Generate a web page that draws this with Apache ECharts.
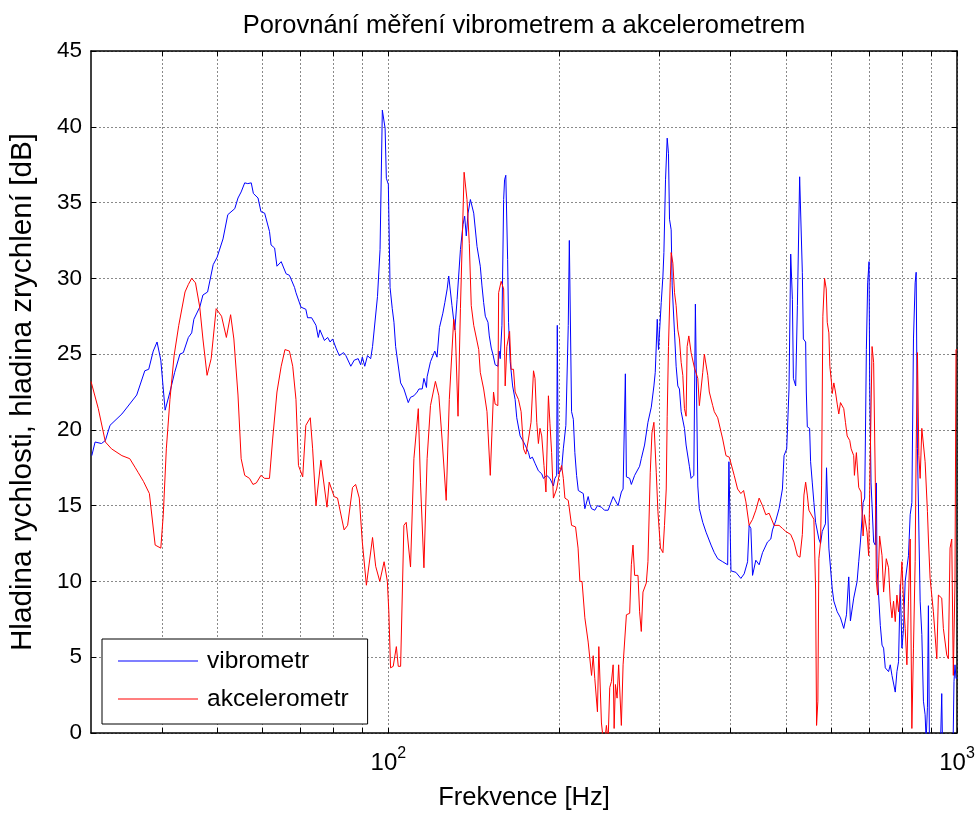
<!DOCTYPE html>
<html>
<head>
<meta charset="utf-8">
<title>Porovnání měření vibrometrem a akcelerometrem</title>
<script src="https://cdn.jsdelivr.net/npm/echarts@6/dist/echarts.min.js"></script>
<style>
  html, body { margin: 0; padding: 0; background: #fff; }
  #chart { width: 978px; height: 816px; }
</style>
</head>
<body>
<div id="chart"></div>
<script>
// Vibrometer spectrum: frequency [Hz] and level [dB]
const vibroFreq = [
  30.1, 30.5, 31.3, 31.8, 32.4, 34.0, 36.1, 37.3, 37.9, 38.6, 39.2, 39.8, 40.5, 41.3, 42.1, 43.0, 43.6, 44.5, 45.1, 45.5,
  46.6, 47.2, 48.1, 49.2, 50.0, 51.2, 52.2, 53.7, 54.4, 55.1, 55.9, 56.6, 57.4, 57.9, 59.0, 59.7, 60.6, 61.8, 62.2, 63.1,
  63.7, 64.8, 66.1, 67.0, 68.4, 68.8, 70.2, 71.6, 72.1, 73.3, 74.6, 75.3, 75.8, 77.2, 78.2, 79.0, 79.8, 80.9, 82.0, 83.4,
  84.2, 85.9, 87.1, 88.5, 89.4, 90.0, 90.9, 91.9, 93.1, 93.8, 95.7, 96.7, 97.6, 98.7, 99.2, 100.0, 100.7, 101.6, 102.3, 103.0,
  105.1, 106.5, 108.4, 109.4, 110.9, 112.4, 113.2, 114.7, 115.5, 116.7, 117.0, 118.6, 120.7, 121.8, 123.0, 124.7, 125.7, 126.9, 127.7, 128.6,
  129.4, 130.9, 132.1, 133.9, 135.3, 136.2, 137.1, 138.1, 139.4, 140.3, 141.3, 143.2, 145.1, 146.1, 147.1, 148.1, 149.7, 150.5, 151.7, 152.7,
  154.1, 155.8, 156.6, 157.3, 158.4, 159.5, 160.1, 160.9, 162.1, 162.7, 163.8, 165.4, 167.1, 168.2, 169.4, 170.5, 172.9, 174.0, 176.4, 177.5,
  179.2, 181.1, 183.6, 186.1, 187.4, 189.9, 192.4, 195.1, 196.3, 197.7, 198.2, 199.0, 201.7, 203.1, 205.2, 207.2, 208.1, 210.0, 211.5, 212.8,
  214.3, 215.8, 220.2, 221.6, 223.1, 224.6, 226.1, 227.7, 230.7, 233.2, 237.0, 239.9, 243.5, 248.5, 253.5, 256.9, 258.7, 261.1, 262.2, 265.7,
  267.5, 271.1, 276.6, 278.5, 282.2, 286.1, 290.0, 293.1, 294.7, 297.1, 298.6, 301.9, 304.0, 305.2, 307.2, 309.3, 310.9, 312.2, 314.3, 315.6,
  318.6, 320.7, 322.9, 325.0, 327.3, 331.7, 333.9, 338.4, 340.7, 344.5, 346.7, 350.1, 352.3, 357.2, 362.0, 369.4, 374.3, 379.5, 387.2, 395.1,
  397.1, 400.4, 408.5, 416.8, 422.4, 428.3, 431.0, 434.0, 437.0, 442.8, 448.8, 455.0, 464.2, 470.5, 473.7, 480.0, 486.5, 493.2, 496.4, 501.8,
  506.5, 510.0, 513.5, 515.6, 520.4, 524.0, 528.8, 534.6, 536.8, 541.8, 543.3, 545.5, 550.6, 552.8, 556.6, 560.2, 564.1, 571.6, 575.5, 579.5,
  587.0, 589.6, 595.2, 603.4, 607.3, 615.7, 623.9, 632.2, 639.2, 645.1, 649.5, 658.2, 667.3, 671.7, 676.3, 683.7, 688.1, 690.0, 692.8, 696.5,
  700.4, 702.2, 706.1, 713.5, 718.4, 721.4, 723.4, 728.0, 733.1, 738.2, 742.9, 748.0, 758.0, 763.2, 768.5, 778.8, 784.1, 789.2, 794.7, 800.1,
  805.3, 810.8, 821.6, 827.3, 833.0, 838.4, 844.1, 847.6, 852.0, 861.4, 867.3, 872.9, 878.9, 882.5, 887.2, 890.7, 894.3, 896.8, 915.1, 933.7,
  940.1, 943.9, 964.3, 984.0, 987.9, 991.9, 996.0, 1000
];
const vibroLevel = [
  18.3, 19.2, 19.1, 19.3, 20.3, 21.05, 22.3, 23.9, 24.0, 25.2, 25.8, 24.6, 21.3, 22.5, 23.8, 25.0, 25.1, 26.1, 26.4, 27.3,
  28.1, 28.9, 29.1, 30.9, 31.4, 32.6, 34.2, 34.6, 35.3, 35.7, 36.3, 36.25, 36.3, 35.6, 35.3, 34.4, 34.3, 33.1, 32.2, 32.0,
  30.8, 31.1, 30.3, 30.2, 29.4, 29.05, 28.1, 27.96, 27.4, 27.4, 26.9, 26.1, 26.6, 25.9, 26.1, 25.8, 26.0, 25.4, 24.9, 25.1,
  24.9, 24.2, 24.6, 24.7, 24.3, 24.8, 24.2, 24.9, 24.7, 25.5, 28.8, 31.9, 41.1, 39.9, 36.6, 36.2, 29.4, 28.0, 27.1, 25.5,
  23.1, 22.7, 21.8, 22.15, 22.25, 22.5, 22.7, 22.7, 23.4, 22.8, 23.5, 24.5, 25.2, 24.8, 26.75, 27.7, 28.4, 29.3, 30.15, 30.1,
  28.2, 26.6, 28.6, 31.9, 33.55, 34.1, 32.8, 34.3, 35.2, 35.1, 34.3, 32.1, 30.8, 29.5, 28.4, 27.5, 27.1, 26.2, 25.4, 25.0,
  24.3, 24.2, 25.2, 24.7, 26.9, 35.2, 36.5, 36.8, 31.25, 27.1, 24.5, 22.9, 22.0, 20.8, 20.9, 19.6, 19.2, 19.0, 18.5, 18.1,
  18.2, 17.8, 17.3, 17.1, 16.8, 17.0, 16.8, 16.3, 16.8, 17.0, 26.9, 17.1, 17.4, 18.75, 20.3, 26.9, 32.5, 21.2, 20.7, 18.5,
  17.0, 16.0, 15.8, 14.8, 14.9, 15.6, 15.1, 14.8, 14.7, 15.0, 14.9, 14.7, 14.7, 15.6, 15.0, 15.9, 16.1, 23.7, 16.9, 16.8,
  16.4, 17.0, 17.6, 18.1, 19.0, 20.5, 21.5, 22.9, 23.8, 27.3, 25.3, 28.4, 30.15, 31.7, 36.5, 39.25, 38.25, 33.9, 33.2, 29.5,
  26.4, 24.2, 22.9, 22.7, 21.2, 20.1, 19.0, 17.6, 16.8, 17.0, 28.3, 16.3, 14.8, 13.9, 13.25, 12.4, 11.9, 11.5, 11.3, 11.1,
  17.9, 10.7, 10.6, 10.2, 10.5, 11.3, 13.7, 13.5, 10.4, 11.4, 11.1, 11.9, 12.6, 12.8, 13.4, 14.0, 14.8, 16.1, 18.3, 18.75,
  22.7, 31.6, 28.6, 23.4, 22.9, 28.2, 36.7, 30.4, 26.0, 25.8, 22.5, 20.2, 20.1, 17.9, 16.5, 15.2, 13.9, 12.8, 12.5, 13.3,
  13.8, 17.5, 12.2, 9.5, 8.7, 8.0, 7.6, 6.9, 7.8, 10.3, 7.4, 8.9, 10.0, 11.3, 12.6, 15.2, 15.5, 19.2, 25.3, 29.7,
  31.1, 23.1, 16.5, 12.6, 12.4, 16.5, 10.9, 9.1, 7.1, 5.8, 5.6, 4.3, 4.05, 4.5, 3.8, 2.7, 4.05, 4.7, 9.8, 5.6,
  6.9, 10.0, 11.7, 14.4, 15.2, 26.0, 29.7, 30.4, 18.75, 8.7, 6.5, 2.1, 1.2, -0.5, 1.7, 8.4, -0.5, -3, -4, -2,
  2.6, -2, -4, -1, 3.4, 4.5, 3.6, 3.6
];

// Accelerometer spectrum: frequency [Hz] and level [dB]
const accelFreq = [
  30.0, 30.9, 31.8, 32.6, 34.0, 35.1, 35.9, 36.3, 37.1, 38.0, 38.9, 39.8, 40.2, 40.7, 41.3, 42.0, 42.8, 43.9, 44.5, 45.1,
  45.8, 46.6, 47.2, 48.0, 48.8, 49.8, 50.9, 51.9, 52.8, 53.5, 54.4, 55.1, 55.9, 57.0, 57.8, 58.6, 59.7, 60.6, 61.8, 62.6,
  63.7, 64.8, 65.8, 67.0, 67.9, 68.8, 69.5, 70.7, 71.6, 72.9, 73.6, 74.6, 76.1, 78.0, 78.7, 80.3, 81.4, 83.6, 84.8, 86.5,
  87.6, 88.9, 90.0, 91.5, 93.8, 95.0, 96.6, 98.3, 99.6, 100.2, 100.9, 102.0, 103.3, 104.1, 105.1, 106.5, 107.5, 109.4, 110.9, 112.9,
  113.9, 115.5, 117.0, 118.6, 121.0, 122.7, 124.3, 126.4, 128.0, 130.3, 131.2, 132.6, 133.9, 135.9, 137.5, 138.8, 139.9, 141.3, 144.2, 145.1,
  147.1, 149.1, 151.1, 153.1, 154.1, 155.8, 156.3, 157.9, 159.5, 160.5, 161.6, 163.4, 164.4, 166.0, 167.1, 169.4, 171.2, 172.9, 174.5, 176.4,
  178.2, 180.0, 181.1, 182.4, 183.6, 184.8, 186.1, 187.8, 189.3, 191.2, 192.4, 193.7, 195.1, 197.7, 200.3, 201.7, 203.1, 204.4, 207.2, 210.0,
  213.4, 215.6, 217.2, 219.1, 221.6, 224.6, 227.7, 229.2, 230.7, 233.2, 234.5, 237.0, 239.6, 241.8, 243.5, 245.1, 246.8, 248.5, 249.5, 250.8,
  252.5, 254.1, 256.9, 258.7, 262.2, 265.7, 267.5, 269.3, 271.1, 274.8, 276.6, 278.5, 280.4, 284.2, 286.1, 288.8, 290.8, 293.1, 295.9, 297.9,
  301.0, 304.0, 305.9, 308.1, 309.3, 310.9, 313.1, 314.3, 316.5, 318.6, 320.7, 322.9, 325.0, 327.3, 329.5, 331.7, 333.9, 335.3, 337.6, 340.7,
  345.3, 350.1, 352.3, 354.7, 357.2, 359.5, 362.0, 364.5, 366.8, 371.9, 374.3, 379.5, 387.2, 392.4, 397.7, 400.4, 405.7, 411.3, 416.8, 421.4,
  425.4, 431.0, 437.0, 442.8, 448.8, 455.0, 461.1, 467.3, 476.8, 486.5, 493.2, 499.8, 510.0, 516.8, 524.0, 529.5, 534.6, 538.1, 541.8, 545.5,
  549.0, 552.8, 560.2, 564.1, 566.3, 569.3, 571.6, 575.5, 577.9, 580.9, 584.9, 588.9, 591.3, 595.2, 597.6, 601.7, 603.4, 607.3, 611.4, 615.7,
  619.6, 623.9, 628.2, 632.2, 636.6, 641.0, 647.7, 651.4, 658.2, 660.1, 665.4, 671.7, 678.2, 683.7, 687.3, 694.8, 699.3, 704.1, 709.0, 713.5,
  718.4, 721.4, 725.2, 731.0, 738.2, 742.9, 751.0, 758.0, 763.2, 768.5, 773.4, 778.8, 784.1, 789.2, 794.7, 800.1, 805.3, 810.8, 816.4, 821.6,
  827.3, 833.0, 838.4, 844.1, 847.6, 852.0, 856.9, 861.4, 867.3, 872.9, 878.9, 887.2, 890.7, 896.8, 908.8, 921.5, 927.4, 940.1, 946.3, 959.4,
  965.6, 972.2, 979.0, 985.2, 991.9, 996.0, 1000
];
const accelLevel = [
  23.2, 21.4, 19.2, 18.75, 18.3, 18.1, 17.5, 17.2, 16.6, 15.8, 12.4, 12.2, 14.4, 18.75, 22.0, 24.9, 26.9, 29.1, 29.6, 30.0,
  29.7, 28.1, 26.0, 23.6, 24.7, 28.0, 27.5, 26.1, 27.6, 26.0, 22.3, 18.1, 17.0, 16.8, 16.4, 16.5, 17.0, 16.8, 16.8, 19.4,
  22.5, 24.2, 25.3, 25.2, 24.2, 22.0, 17.65, 16.9, 20.3, 20.8, 18.75, 15.0, 18.0, 14.9, 16.55, 15.6, 15.5, 13.4, 13.7, 16.2,
  16.4, 15.5, 12.6, 9.75, 12.9, 11.0, 10.0, 11.3, 10.0, 8.0, 4.3, 4.4, 5.7, 4.4, 4.4, 13.7, 13.9, 10.95, 18.1, 21.4,
  16.55, 10.9, 18.1, 21.6, 23.2, 22.25, 19.4, 15.35, 22.0, 27.3, 26.4, 20.9, 28.0, 37.0, 35.2, 32.3, 28.2, 26.9, 25.3, 23.8,
  22.7, 21.2, 17.0, 22.5, 21.7, 21.6, 29.05, 29.8, 29.3, 22.9, 25.5, 26.5, 24.0, 24.0, 22.5, 22.0, 21.2, 18.75, 18.4, 19.4,
  20.5, 23.9, 23.4, 20.5, 19.1, 20.1, 19.6, 17.65, 15.9, 22.25, 20.4, 18.5, 15.5, 16.1, 17.3, 17.65, 16.8, 15.5, 15.35, 13.7,
  13.6, 12.2, 10.0, 10.0, 7.6, 6.0, 3.8, 5.1, 3.6, 1.4, 5.7, 0.66, -1, 0.5, -0.5, 3.0, 3.4, 4.5, 0.3, 3.2,
  2.3, 4.5, 0.5, 4.5, 7.8, 7.9, 11.1, 12.4, 10.4, 10.4, 8.0, 6.7, 9.3, 9.9, 11.3, 17.2, 19.8, 20.5, 17.2, 14.6,
  12.2, 11.9, 13.7, 16.1, 20.9, 25.5, 29.7, 31.7, 31.0, 29.05, 28.2, 26.6, 26.0, 24.45, 23.6, 21.4, 20.9, 25.5, 26.2, 25.1,
  24.1, 23.4, 21.6, 21.6, 23.8, 25.0, 24.9, 23.6, 22.5, 21.6, 21.2, 20.8, 19.4, 18.3, 18.2, 18.3, 17.0, 16.1, 15.8, 16.0,
  15.25, 13.7, 14.1, 14.7, 15.5, 15.0, 14.4, 14.5, 13.7, 13.7, 13.5, 13.3, 13.1, 12.6, 11.7, 11.6, 13.1, 15.7, 16.55, 15.7,
  14.7, 14.8, 14.1, 9.5, 0.5, 2.1, 11.5, 12.6, 16.3, 27.5, 30.0, 29.3, 27.1, 26.4, 24.2, 23.1, 22.4, 23.1, 22.5, 21.7,
  21.05, 21.8, 21.9, 21.4, 20.5, 19.6, 19.3, 18.75, 18.3, 17.0, 18.5, 16.2, 15.9, 13.0, 14.4, 13.25, 11.7, 11.7, 25.5, 24.45,
  16.55, 10.0, 9.1, 13.0, 11.7, 9.3, 11.5, 10.9, 8.7, 7.6, 8.7, 7.35, 9.1, 8.0, 9.3, 11.3, 8.7, 6.9, 4.5, 8.7,
  12.8, 0.3, 5.6, 11.3, 18.75, 25.1, 18.3, 16.8, 20.1, 20.0, 17.9, 14.6, 12.8, 10.2, 8.0, 4.9, 9.1, 8.9, 6.9, 5.15,
  4.9, 12.2, 12.8, 3.8, 10.0, 25.3, 25.3
];

// Axis ticks
const xMin = 30;
const xMax = 1000;
const xGridValues = [40, 50, 60, 70, 80, 90, 100, 200, 300, 400, 500, 600, 700, 800, 900, 1000];
const xLabelValues = [100, 1000];
const yMin = 0;
const yMax = 45;
const yStep = 5;

const FONT = '"Liberation Sans", Arial, Helvetica, sans-serif';

const pairs = (fs, vs) => fs.map((f, i) => [f, vs[i]]);

const gridLineStyle = { color: '#8a8a8a', width: 1, type: [2, 2] };
const frameLine = { show: true, onZero: false, lineStyle: { color: '#000', width: 1.5 } };
const tickStyle = { color: '#000', width: 1 };

const chart = echarts.init(document.getElementById('chart'), null, { renderer: 'canvas' });

chart.setOption({
  animation: false,
  backgroundColor: '#fff',
  title: {
    text: 'Porovnání měření vibrometrem a akcelerometrem',
    left: 519,
    top: 8,
    textAlign: 'center',
    textStyle: { fontFamily: FONT, fontSize: 25.5, fontWeight: 'normal', color: '#000' }
  },
  grid: { left: 88, right: 21, top: 51, bottom: 81, show: false },
  legend: {
    data: ['vibrometr', 'akcelerometr'],
    orient: 'vertical',
    left: 102,
    top: 639,
    icon: 'rect',
    itemWidth: 80,
    itemHeight: 1.2,
    itemGap: 13,
    padding: [9.5, 19, 12.5, 16],
    borderColor: '#000',
    borderWidth: 1,
    backgroundColor: '#fff',
    selectedMode: false,
    textStyle: { fontFamily: FONT, fontSize: 24.5, color: '#000', padding: [0, 0, 0, 4] }
  },
  xAxis: [
    {
      type: 'log',
      logBase: 10,
      min: xMin,
      max: xMax,
      position: 'bottom',
      name: 'Frekvence [Hz]',
      nameLocation: 'middle',
      nameGap: 52,
      nameTextStyle: { fontFamily: FONT, fontSize: 25.5, color: '#000' },
      axisLine: frameLine,
      axisTick: { show: true, inside: true, length: 5, customValues: xGridValues, lineStyle: tickStyle },
      axisLabel: {
        customValues: xLabelValues,
        margin: 13,
        formatter: v => '{b|10}{s|' + Math.round(Math.log10(v)) + '}',
        rich: {
          b: { fontFamily: FONT, fontSize: 24, color: '#000', verticalAlign: 'bottom' },
          s: { fontFamily: FONT, fontSize: 16, color: '#000', verticalAlign: 'bottom', padding: [0, 0, 13, 0] }
        }
      },
      splitLine: { show: true, lineStyle: gridLineStyle },
      minorTick: { show: false },
      minorSplitLine: { show: false }
    },
    {
      type: 'log',
      logBase: 10,
      min: xMin,
      max: xMax,
      position: 'top',
      axisLine: frameLine,
      axisTick: { show: true, inside: true, length: 5, customValues: xGridValues, lineStyle: tickStyle },
      axisLabel: { show: false },
      splitLine: { show: false }
    }
  ],
  yAxis: [
    {
      type: 'value',
      min: yMin,
      max: yMax,
      interval: yStep,
      position: 'left',
      name: 'Hladina rychlosti, hladina zrychlení [dB]',
      nameLocation: 'middle',
      nameGap: 53,
      nameTextStyle: { fontFamily: FONT, fontSize: 29.7, color: '#000' },
      axisLine: frameLine,
      axisTick: { show: true, inside: true, length: 5, lineStyle: tickStyle },
      axisLabel: { margin: 9, fontFamily: FONT, fontSize: 22.5, color: '#000' },
      splitLine: { show: true, lineStyle: gridLineStyle }
    },
    {
      type: 'value',
      min: yMin,
      max: yMax,
      interval: yStep,
      position: 'right',
      axisLine: frameLine,
      axisTick: { show: true, inside: true, length: 5, lineStyle: tickStyle },
      axisLabel: { show: false },
      splitLine: { show: false }
    }
  ],
  series: [
    {
      name: 'vibrometr',
      type: 'line',
      xAxisIndex: 0,
      yAxisIndex: 0,
      data: pairs(vibroFreq, vibroLevel),
      showSymbol: false,
      symbol: 'none',
      clip: true,
      color: '#0000ff',
      lineStyle: { color: '#0000ff', width: 1 }
    },
    {
      name: 'akcelerometr',
      type: 'line',
      xAxisIndex: 0,
      yAxisIndex: 0,
      data: pairs(accelFreq, accelLevel),
      showSymbol: false,
      symbol: 'none',
      clip: true,
      color: '#ff0000',
      lineStyle: { color: '#ff0000', width: 1 }
    }
  ]
});
</script>
</body>
</html>
